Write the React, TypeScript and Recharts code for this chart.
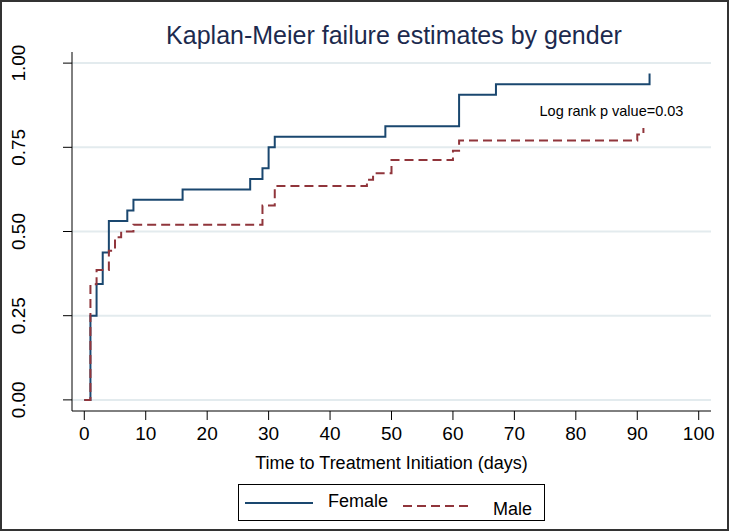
import {
  CartesianGrid,
  Label,
  Line,
  LineChart,
  ReferenceDot,
  XAxis,
  YAxis,
} from "recharts";

// Kaplan-Meier failure estimates
const femaleDays = [0, 1, 2, 3, 4, 7, 8, 16, 27, 29, 30, 31, 49, 61, 67, 92];
const femaleFail = [
  0, 0.25, 0.344, 0.438, 0.531, 0.5625, 0.594, 0.625, 0.656, 0.6875, 0.75,
  0.781, 0.8125, 0.906, 0.9375, 0.969,
];
const maleDays = [0, 1, 2, 4, 5, 6, 8, 29, 31, 46, 47, 50, 60, 61, 90, 91];
const maleFail = [
  0, 0.343, 0.386, 0.443, 0.483, 0.5, 0.52, 0.577, 0.635, 0.654, 0.673, 0.712,
  0.74, 0.77, 0.788, 0.807,
];
const xTicks = [0, 10, 20, 30, 40, 50, 60, 70, 80, 90, 100];
const yTicks = [0, 0.25, 0.5, 0.75, 1];

const femaleData = femaleDays.map((t, i) => ({ t, fail: femaleFail[i] }));
const maleData = maleDays.map((t, i) => ({ t, fail: maleFail[i] }));

const FONT = "'Liberation Sans', Arial, Helvetica, sans-serif";
const NAVY = "#1a476f";
const MAROON = "#90353b";

const YTick = (props: any) => {
  const { y, payload } = props;
  return (
    <text
      transform={`translate(25, ${y}) rotate(-90)`}
      textAnchor="middle"
      fontSize={19}
      fontFamily={FONT}
      fill="#000"
    >
      {Number(payload.value).toFixed(2)}
    </text>
  );
};

const App = () => {
  return (
    <div
      style={{
        position: "absolute",
        left: 0,
        top: 0,
        width: 729,
        height: 531,
        background: "#fff",
      }}
    >
      <LineChart
        width={729}
        height={531}
        margin={{ top: 52, right: 18, left: 0, bottom: 58 }}
      >
        <CartesianGrid
          vertical={false}
          stroke="#e3ebee"
          strokeWidth={2}
          horizontalValues={yTicks}
        />
        <XAxis
          dataKey="t"
          type="number"
          domain={[-2, 102]}
          ticks={xTicks}
          allowDuplicatedCategory={false}
          height={62}
          tickSize={9}
          tickMargin={7}
          stroke="#000"
          tick={{ fill: "#000", fontSize: 19, fontFamily: FONT }}
        >
          <Label
            value="Time to Treatment Initiation (days)"
            position="insideBottom"
            offset={4}
            fill="#000"
            fontSize={18}
            fontFamily={FONT}
          />
        </XAxis>
        <YAxis
          type="number"
          domain={[-0.033, 1.033]}
          ticks={yTicks}
          width={72}
          tickSize={9}
          stroke="#000"
          tick={<YTick />}
        />
        <Line
          data={femaleData}
          dataKey="fail"
          type="stepAfter"
          stroke={NAVY}
          strokeWidth={2}
          dot={false}
          isAnimationActive={false}
        />
        <Line
          data={maleData}
          dataKey="fail"
          type="stepAfter"
          stroke={MAROON}
          strokeWidth={2}
          strokeDasharray="9 5"
          dot={false}
          isAnimationActive={false}
        />
        <ReferenceDot
          x={85.8}
          y={0.859}
          r={0}
          fill="none"
          stroke="none"
          label={{
            value: "Log rank p value=0.03",
            position: "center",
            fill: "#000",
            fontSize: 14.5,
            fontFamily: FONT,
          }}
        />
      </LineChart>
      <svg
        width={729}
        height={531}
        style={{ position: "absolute", left: 0, top: 0, pointerEvents: "none" }}
      >
        <rect x={1} y={1} width={727} height={529} fill="none" stroke="#333" strokeWidth={2} />
        <text
          x={394}
          y={44}
          textAnchor="middle"
          fontSize={25}
          fontFamily={FONT}
          fill="#1c2a4e"
        >
          Kaplan-Meier failure estimates by gender
        </text>
        {/* legend */}
        <rect x={238.5} y={484.5} width={306} height={36} fill="#fff" stroke="#000" strokeWidth={1} />
        <line x1={245} x2={313} y1={503} y2={503} stroke={NAVY} strokeWidth={2} />
        <text x={328} y={507} fontSize={18} fontFamily={FONT} fill="#000">
          Female
        </text>
        <line
          x1={403}
          x2={472}
          y1={506}
          y2={506}
          stroke={MAROON}
          strokeWidth={2}
          strokeDasharray="9 5"
        />
        <text x={493} y={515} fontSize={18} fontFamily={FONT} fill="#000">
          Male
        </text>
      </svg>
    </div>
  );
};

export default App;
